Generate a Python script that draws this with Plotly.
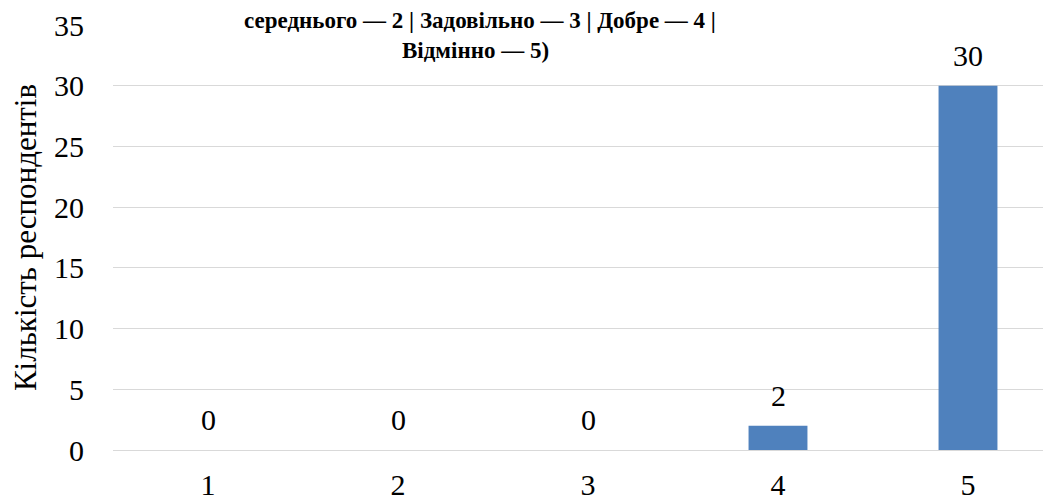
import plotly.graph_objects as go

categories = [1, 2, 3, 4, 5]
values = [0, 0, 0, 2, 30]
y_ticks = [0, 5, 10, 15, 20, 25, 30, 35]
title_lines = ["середнього — 2 | Задовільно — 3 | Добре — 4 |", "Відмінно — 5)"]
y_title = "Кількість респондентів"

# browser body margin offsets the figure by 8px; compensate
W, H = 1051, 500
ML, MR, MT, MB = 105, 0, 17, 58
band = 190.0
plot_w = W - ML - MR
x_hi = 0.5 + plot_w / band

FAM = "Liberation Serif"
font = dict(family=FAM, size=30, color="#000000")

fig = go.Figure()
fig.add_trace(go.Bar(x=categories, y=values, width=0.31,
                     marker=dict(color="#4F81BD", line=dict(width=0)),
                     hoverinfo="skip"))

for c, v in zip(categories, values):
    fig.add_annotation(x=c, y=v, xref="x", yref="y", text=str(v), showarrow=False,
                       yanchor="bottom", yshift=12, font=font)

title_font = dict(family=FAM, size=23, color="#000000")
title_pos = [(472, 5), (467, -25)]  # (figure px center x, yshift from plot top)
for line, (px, ys) in zip(title_lines, title_pos):
    fig.add_annotation(x=(px - ML) / plot_w, xref="paper", y=1, yref="paper",
                       text="<b>" + line + "</b>", showarrow=False, xanchor="center",
                       yanchor="middle", yshift=ys, font=title_font)

fig.update_layout(
    width=W, height=H,
    margin=dict(l=ML, r=MR, t=MT, b=MB, pad=0),
    paper_bgcolor="white", plot_bgcolor="white",
    showlegend=False,
    font=font,
    xaxis=dict(range=[0.5, x_hi], tickvals=categories, ticktext=[str(c) for c in categories],
               showgrid=False, zeroline=False, showline=False, ticks="", tickfont=font,
               ticklabelstandoff=14),
    yaxis=dict(range=[0, 35], tickvals=y_ticks, showgrid=True, gridcolor="#D9D9D9", gridwidth=1,
               zeroline=True, zerolinecolor="#D9D9D9", zerolinewidth=1, showline=False,
               ticks="", tickfont=font, ticklabelstandoff=28,
               title=dict(text=y_title, font=dict(family=FAM, size=31, color="#000000"), standoff=14)),
)

fig.write_html("out.html")
